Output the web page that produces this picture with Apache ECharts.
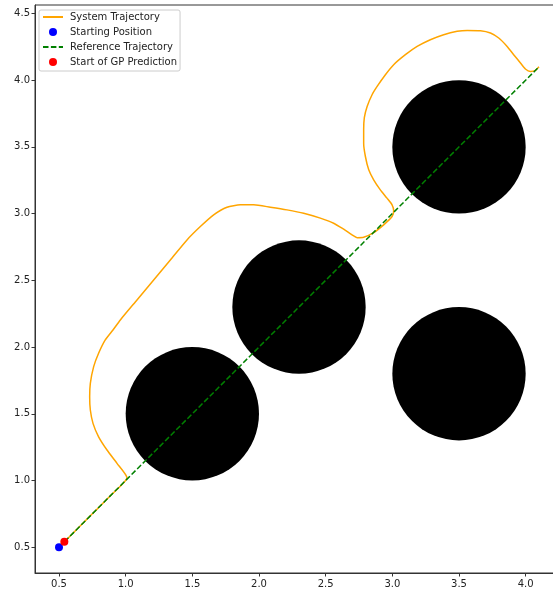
<!DOCTYPE html>
<html lang="en">
<head>
    <meta charset="UTF-8">
    <title>trajectory</title>
    <script src="https://cdn.jsdelivr.net/npm/echarts@6/dist/echarts.min.js"></script>
    <style>
        html, body { margin: 0; padding: 0; background: #fff; overflow: hidden; }
        /* plot box runs past the right edge of the window, like the cropped original */
        #main { width: 563px; height: 589px; }
    </style>
</head>
<body>
    <div id="main"></div>
    <script>
        // obstacles (centre x, centre y, radius)
        var obstacleX = [1.5, 2.3, 3.5, 3.5];
        var obstacleY = [1.5, 2.3, 3.5, 1.8];
        var obstacleR = [0.5, 0.5, 0.5, 0.5];

        // system trajectory
        var trajX = [0.50, 0.75, 0.90, 1.01, 0.935, 0.86, 0.797, 0.755, 0.735, 0.73, 0.735, 0.76, 0.797, 0.847, 0.905,
            0.96, 1.085, 1.21, 1.335, 1.46, 1.56, 1.66, 1.76, 1.86, 1.96, 2.085, 2.21, 2.335, 2.46, 2.56,
            2.635, 2.698, 2.736, 2.785, 2.86, 2.935, 2.998, 3.01, 2.998, 2.96, 2.91, 2.86, 2.823, 2.798,
            2.785, 2.785, 2.79, 2.811, 2.848, 2.886, 2.948, 3.01, 3.098, 3.186, 3.285, 3.385, 3.486, 3.561,
            3.661, 3.736, 3.798, 3.861, 3.91, 3.961, 3.998, 4.036, 4.073, 4.10];
        var trajY = [0.50, 0.75, 0.90, 1.02, 1.128, 1.228, 1.327, 1.428, 1.528, 1.628, 1.728, 1.853, 1.953, 2.053, 2.128,
            2.203, 2.353, 2.503, 2.653, 2.803, 2.903, 2.991, 3.048, 3.066, 3.066, 3.048, 3.028, 3.003, 2.966, 2.928,
            2.883, 2.841, 2.82, 2.823, 2.858, 2.916, 2.978, 3.021, 3.066, 3.116, 3.178, 3.253, 3.328, 3.428,
            3.528, 3.628, 3.72, 3.803, 3.891, 3.953, 4.041, 4.116, 4.191, 4.253, 4.303, 4.341, 4.366, 4.373,
            4.371, 4.354, 4.316, 4.253, 4.191, 4.129, 4.084, 4.066, 4.073, 4.10];

        var refX = [0.5, 4.1];
        var refY = [0.5, 4.1];
        var startPos = [0.5, 0.5];
        var gpStart = [0.54, 0.54];
        var tickValues = [0.5, 1.0, 1.5, 2.0, 2.5, 3.0, 3.5, 4.0, 4.5];

        function zip(a, b) {
            return a.map(function (v, i) { return [v, b[i]]; });
        }

        var obstacles = obstacleX.map(function (v, i) { return [v, obstacleY[i], obstacleR[i]]; });

        var font = { fontFamily: 'DejaVu Sans', fontSize: 10, color: '#222' };

        function axis(min, max, ticks) {
            return {
                type: 'value',
                min: min,
                max: max,
                axisLine: { show: true, onZero: false, lineStyle: { color: '#333', width: 1 } },
                axisTick: { show: true, length: 3.5, customValues: ticks, lineStyle: { color: '#333' } },
                axisLabel: Object.assign({
                    customValues: ticks,
                    formatter: function (v) { return v.toFixed(1); }
                }, font),
                splitLine: { show: false }
            };
        }

        var xAx = axis(0.32, 4.28, tickValues.slice(0, 8));
        xAx.axisLabel.margin = 6;
        var yAx = axis(0.3065, 4.5635, tickValues);
        yAx.axisLabel.margin = 5;

        var noSymbol = { opacity: 0 };

        var myChart = echarts.init(document.getElementById('main'));
        var option = {
            animation: false,
            backgroundColor: '#fff',
            grid: { left: 35, top: 5, width: 528, height: 568, show: true, borderColor: '#333', borderWidth: 1 },
            xAxis: xAx,
            yAxis: yAx,
            legend: {
                data: [
                    { name: 'System Trajectory', itemStyle: noSymbol },
                    { name: 'Starting Position' },
                    { name: 'Reference Trajectory', itemStyle: noSymbol },
                    { name: 'Start of GP Prediction' }
                ],
                orient: 'vertical',
                left: 39,
                top: 10,
                itemWidth: 20,
                itemHeight: 8,
                itemGap: 3,
                padding: [1, 3, 3, 3],
                backgroundColor: 'rgba(255,255,255,0.8)',
                borderColor: '#cccccc',
                borderWidth: 1,
                borderRadius: 2,
                textStyle: { fontFamily: 'DejaVu Sans', fontSize: 10, color: '#222', lineHeight: 12, padding: [0, 0, 0, 2] }
            },
            series: [
                {
                    type: 'custom',
                    name: 'obstacles',
                    z: 1,
                    data: obstacles,
                    encode: { x: 0, y: 1 },
                    renderItem: function (params, api) {
                        var c = api.coord([api.value(0), api.value(1)]);
                        var s = api.size([api.value(2), api.value(2)]);
                        return { type: 'circle', shape: { cx: c[0], cy: c[1], r: s[0] }, style: { fill: '#000' } };
                    }
                },
                {
                    type: 'line',
                    name: 'System Trajectory',
                    z: 2,
                    data: zip(trajX, trajY),
                    symbol: 'none',
                    smooth: 0.2,
                    color: '#FFA500',
                    lineStyle: { color: '#FFA500', width: 1.5, join: 'round' }
                },
                {
                    type: 'scatter',
                    name: 'Starting Position',
                    z: 4,
                    data: [startPos],
                    symbolSize: 8,
                    itemStyle: { color: '#0000FF', opacity: 1 }
                },
                {
                    type: 'line',
                    name: 'Reference Trajectory',
                    z: 3,
                    data: zip(refX, refY),
                    symbol: 'none',
                    color: '#008000',
                    lineStyle: { color: '#008000', width: 1.5, type: [5.5, 2.4] }
                },
                {
                    type: 'scatter',
                    name: 'Start of GP Prediction',
                    z: 5,
                    data: [gpStart],
                    symbolSize: 8,
                    itemStyle: { color: '#FF0000', opacity: 1 }
                }
            ]
        };
        myChart.setOption(option);
    </script>
</body>
</html>
